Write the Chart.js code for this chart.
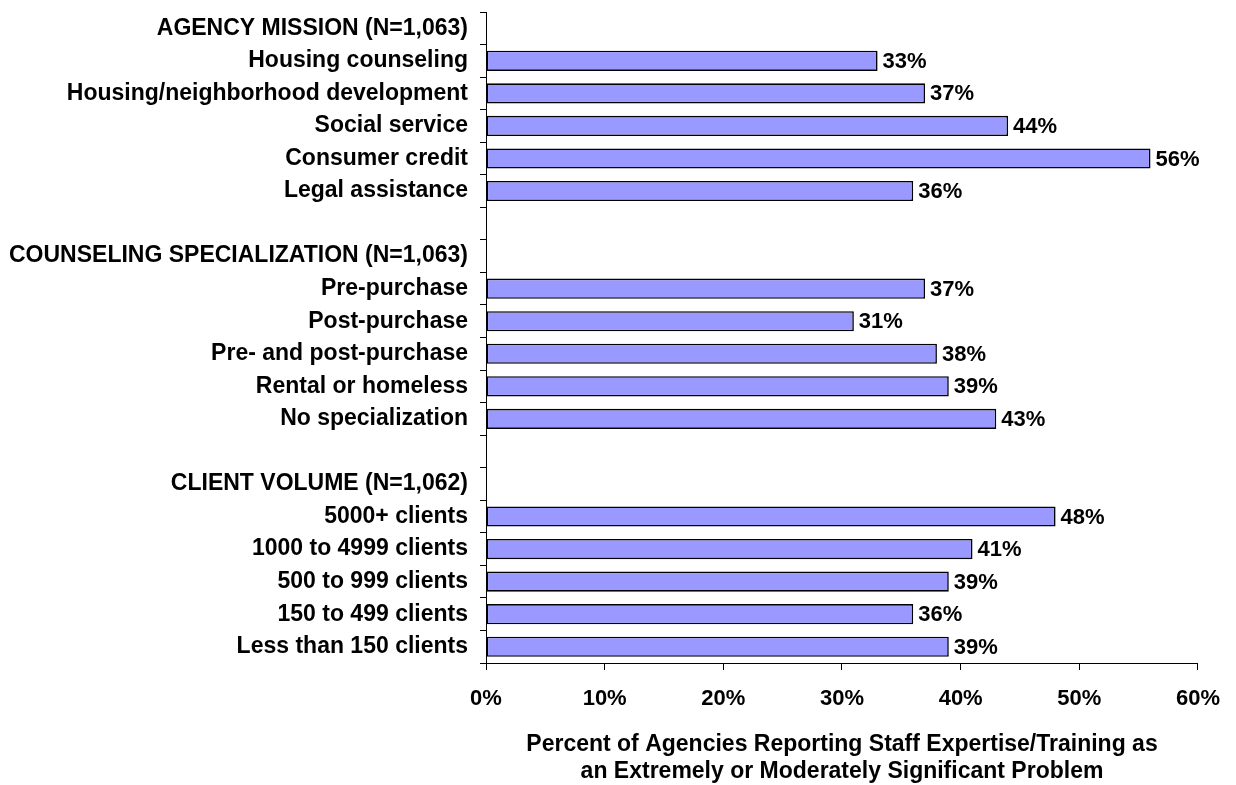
<!DOCTYPE html>
<html>
<head>
<meta charset="utf-8">
<script src="https://cdn.jsdelivr.net/npm/chart.js@4"></script>
<style>
  html, body { margin: 0; padding: 0; background: #fff; }
  #wrap { width: 1236px; height: 785px; }
</style>
</head>
<body>
<div id="wrap"><canvas id="chart" width="1236" height="785"></canvas></div>
<script>
// categories (group headers and blank spacer rows included)
const categories = [
  "AGENCY MISSION (N=1,063)",
  "Housing counseling",
  "Housing/neighborhood development",
  "Social service",
  "Consumer credit",
  "Legal assistance",
  "",
  "COUNSELING SPECIALIZATION (N=1,063)",
  "Pre-purchase",
  "Post-purchase",
  "Pre- and post-purchase",
  "Rental or homeless",
  "No specialization",
  "",
  "CLIENT VOLUME (N=1,062)",
  "5000+ clients",
  "1000 to 4999 clients",
  "500 to 999 clients",
  "150 to 499 clients",
  "Less than 150 clients"
];
// percent values, null for header / spacer rows
const values = [
  null, 33, 37, 44, 56, 36, null,
  null, 37, 31, 38, 39, 43, null,
  null, 48, 41, 39, 36, 39
];
const xTicks = [0, 10, 20, 30, 40, 50, 60];
const axisTitle = [
  "Percent of Agencies Reporting Staff Expertise/Training as",
  "an Extremely or Moderately Significant Problem"
];

const FONT = "'Liberation Sans', Arial, sans-serif";

// draws the "33%" labels right of each bar
const valueLabels = {
  id: "valueLabels",
  afterDatasetsDraw(chart) {
    const ctx = chart.ctx;
    const meta = chart.getDatasetMeta(0);
    ctx.save();
    ctx.font = "bold 22px " + FONT;
    ctx.fillStyle = "#000";
    ctx.textAlign = "left";
    ctx.textBaseline = "middle";
    meta.data.forEach(function (bar, i) {
      if (values[i] === null) return;
      ctx.fillText(values[i] + "%", bar.x + 5, bar.y + 1);
    });
    ctx.restore();
  }
};

let ctx0 = document.getElementById("chart");
let myChart = new Chart(ctx0, {
  type: "bar",
  data: {
    labels: categories,
    datasets: [
      {
        data: values,
        backgroundColor: "#9999FF",
        borderColor: "#000",
        borderWidth: 1.6,
        borderSkipped: false,
        categoryPercentage: 1,
        barPercentage: 0.62
      }
    ]
  },
  options: {
    indexAxis: "y",
    responsive: false,
    animation: false,
    layout: { padding: { top: 12, right: 36, left: 0, bottom: 0 } },
    plugins: {
      legend: { display: false },
      tooltip: { enabled: false }
    },
    scales: {
      x: {
        min: 0,
        max: 60,
        afterBuildTicks: function (scale) {
          scale.ticks = xTicks.map(function (v) { return { value: v }; });
        },
        border: { display: true, color: "#000", width: 1 },
        grid: {
          drawOnChartArea: false,
          drawTicks: true,
          tickLength: 7,
          color: "#000"
        },
        ticks: {
          color: "#000",
          font: { family: FONT, size: 22, weight: "bold" },
          padding: 16,
          maxRotation: 0,
          callback: function (v) { return v + "%"; }
        },
        title: {
          display: true,
          text: axisTitle,
          color: "#000",
          font: { family: FONT, size: 23, weight: "bold", lineHeight: "27px" },
          padding: { top: 10, bottom: 0 }
        },
        afterFit: function (scale) { scale.height = 122; }
      },
      y: {
        border: { display: true, color: "#000", width: 1 },
        grid: {
          drawOnChartArea: false,
          drawTicks: true,
          tickLength: 6,
          color: "#000",
          offset: true
        },
        ticks: {
          color: "#000",
          font: { family: FONT, size: 23, weight: "bold" },
          padding: 12,
          autoSkip: false
        },
        afterFit: function (scale) {
          scale.width = 486;
          scale.paddingTop = 0;
          scale.paddingBottom = 0;
        }
      }
    }
  },
  plugins: [valueLabels]
});
</script>
</body>
</html>
